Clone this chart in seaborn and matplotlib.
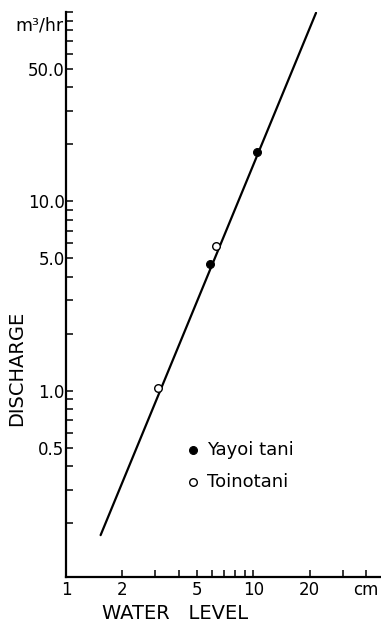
import matplotlib
matplotlib.use("Agg")
import matplotlib.pyplot as plt
import matplotlib.ticker as mticker
import seaborn as sns
import pandas as pd

# ---- data ----
yayoi_level = [5.9, 10.5]          # cm
yayoi_discharge = [4.7, 18.2]      # m3/hr
toino_level = [3.1, 6.35]
toino_discharge = [1.04, 5.85]
fit_level = [1.53, 21.6]
fit_discharge = [0.173, 99.0]

x_major = [1, 2, 5, 10, 20, 40]
x_major_labels = ["1", "2", "5", "10", "20", "cm"]
x_minor = [3, 4, 6, 7, 8, 9, 30]
y_major = [0.5, 1.0, 5.0, 10.0, 50.0]
y_major_labels = ["0.5", "1.0", "5.0", "10.0", "50.0"]
y_minor = [0.2, 0.3, 0.4, 0.6, 0.7, 0.8, 0.9,
           2, 3, 4, 6, 7, 8, 9,
           20, 30, 40, 60, 70, 80, 90, 100]

sns.set_style("ticks")
plt.rcParams["font.family"] = ["DejaVu Sans"]
plt.rcParams["text.color"] = "black"
plt.rcParams["axes.labelcolor"] = "black"
plt.rcParams["xtick.color"] = "black"
plt.rcParams["ytick.color"] = "black"

W, H = 381, 622
fig = plt.figure(figsize=(W / 100, H / 100), dpi=100)
ax = fig.add_axes([66 / W, 1 - 577 / H, (W - 66) / W, (577 - 12) / H])

fit_df = pd.DataFrame({"level": fit_level, "discharge": fit_discharge})
sns.lineplot(data=fit_df, x="level", y="discharge", ax=ax, color="black",
             linewidth=1.6, legend=False)

ydf = pd.DataFrame({"level": yayoi_level, "discharge": yayoi_discharge})
tdf = pd.DataFrame({"level": toino_level, "discharge": toino_discharge})
sns.scatterplot(data=ydf, x="level", y="discharge", ax=ax, s=32,
                color="black", edgecolor="black", linewidth=0.8,
                label="Yayoi tani", zorder=3)
sns.scatterplot(data=tdf, x="level", y="discharge", ax=ax, s=30,
                facecolor="white", edgecolor="black", linewidth=1.0,
                label="Toinotani", zorder=3)

ax.set_xscale("log")
ax.set_yscale("log")
ax.set_xlim(1, 48)
ax.set_ylim(0.104, 100)

ax.xaxis.set_major_locator(mticker.FixedLocator(x_major))
ax.xaxis.set_major_formatter(mticker.FixedFormatter(x_major_labels))
ax.xaxis.set_minor_locator(mticker.FixedLocator(x_minor))
ax.xaxis.set_minor_formatter(mticker.NullFormatter())
ax.yaxis.set_major_locator(mticker.FixedLocator(y_major))
ax.yaxis.set_major_formatter(mticker.FixedFormatter(y_major_labels))
ax.yaxis.set_minor_locator(mticker.FixedLocator(y_minor))
ax.yaxis.set_minor_formatter(mticker.NullFormatter())

for side in ["top", "right"]:
    ax.spines[side].set_visible(False)
for side in ["left", "bottom"]:
    ax.spines[side].set_linewidth(1.6)
    ax.spines[side].set_color("black")

ax.tick_params(which="both", direction="in", length=4.8, width=1.1,
               color="black", labelsize=12, labelcolor="black")
ax.tick_params(axis="x", which="both", pad=3)
ax.tick_params(axis="y", which="both", pad=1)

ax.set_xlabel("WATER   LEVEL", fontsize=14, color="black")
ax.xaxis.set_label_coords((175 - 66) / (W - 66), (577 - 604) / 565)
ax.set_ylabel("DISCHARGE", fontsize=14, color="black")
ax.yaxis.set_label_coords((26 - 66) / (W - 66), (577 - 368) / 565)

fig.text(63 / W, 1 - 26 / H, "m³/hr", ha="right", va="center",
         fontsize=12.5, color="black")

leg = ax.legend(loc="upper left", bbox_to_anchor=(187.6 / W, 1 - 441 / H),
                bbox_transform=fig.transFigure, frameon=False, fontsize=13,
                handlelength=0.6, handletextpad=0.5, borderpad=0,
                borderaxespad=0, labelspacing=0.75)
for t in leg.get_texts():
    t.set_color("black")

fig.savefig("out.png", dpi=100)
